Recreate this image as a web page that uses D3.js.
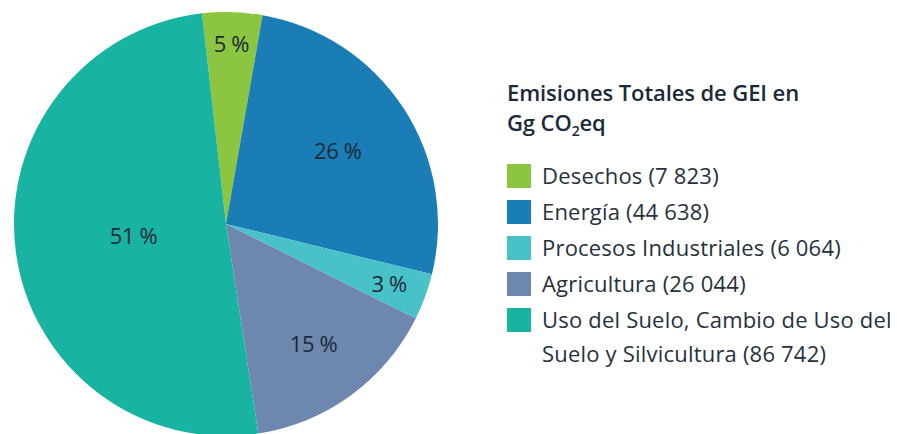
<!DOCTYPE html>
<html><head><meta charset="utf-8">
<script src="https://cdn.jsdelivr.net/npm/d3@7/dist/d3.min.js"></script>
<style>
html,body{margin:0;padding:0;background:#fff;}
svg{display:block;font-family:"Open Sans",sans-serif;}
</style></head>
<body>
<svg id="chart" width="897" height="434"></svg>
<script>
const categories = ["Desechos","Energía","Procesos Industriales","Agricultura","Uso del Suelo, Cambio de Uso del Suelo y Silvicultura"];
const legendLines = [["Desechos (7 823)"],["Energía (44 638)"],["Procesos Industriales (6 064)"],["Agricultura (26 044)"],["Uso del Suelo, Cambio de Uso del","Suelo y Silvicultura (86 742)"]];
const values = [7823, 44638, 6064, 26044, 86742];
const pctLabels = ["5 %","26 %","3 %","15 %","51 %"];
const colors = ["#8cc540","#1b7db5","#48c2c8","#6d87ae","#19b3a2"];
const labelRadiusFactor = [0.85, 0.63, 0.82, 0.70, 0.44];

const svg = d3.select("#chart");
const cx = 226, cy = 224, R = 212;
const startA = -6.5 * Math.PI/180;

const pie = d3.pie().sort(null).value(d => d)
  .startAngle(startA).endAngle(startA + 2*Math.PI);
const arcs = pie(values);
const arc = d3.arc().innerRadius(0).outerRadius(R);

const g = svg.append("g").attr("transform", `translate(${cx},${cy})`);
g.selectAll("path").data(arcs).enter().append("path")
  .attr("d", arc).attr("fill", (d,i) => colors[i]);

g.selectAll("text.pct").data(arcs).enter().append("text")
  .attr("class","pct")
  .attr("transform", (d,i) => {
    const a = (d.startAngle + d.endAngle)/2;
    const r = R * labelRadiusFactor[i];
    return `translate(${r*Math.sin(a)},${-r*Math.cos(a)})`;
  })
  .attr("text-anchor","middle").attr("dy","0.36em")
  .attr("font-size",22).attr("font-weight",500).attr("letter-spacing","-0.4")
  .attr("fill","#1c2a38")
  .text((d,i) => pctLabels[i]);

// Legend
const lg = svg.append("g");
const title = lg.append("text").attr("x",507).attr("y",101)
  .attr("font-size",22).attr("font-weight",600).attr("letter-spacing","-0.1").attr("fill","#1c2a38");
title.append("tspan").text("Emisiones Totales de GEI en");
const t2 = lg.append("text").attr("x",507).attr("y",131)
  .attr("font-size",22).attr("font-weight",600).attr("letter-spacing","-0.1").attr("fill","#1c2a38");
t2.append("tspan").text("Gg CO");
t2.append("tspan").attr("font-size",14).attr("dy",5).text("2");
t2.append("tspan").attr("dy",-5).text("eq");

const rowY = d3.scaleBand().domain(d3.range(categories.length)).range([164, 344]).paddingInner(0);
categories.forEach((c,i) => {
  const y0 = rowY(i);
  lg.append("rect").attr("x",507).attr("y",y0).attr("width",24).attr("height",24)
    .attr("fill",colors[i]);
  legendLines[i].forEach((line,j) => {
    lg.append("text").attr("x",542).attr("y",y0 + 12 + j*34).attr("dy","0.35em")
      .attr("font-size",22).attr("font-weight",400).attr("letter-spacing","0.2").attr("fill","#27313c")
      .text(line);
  });
});
</script>
</body></html>
